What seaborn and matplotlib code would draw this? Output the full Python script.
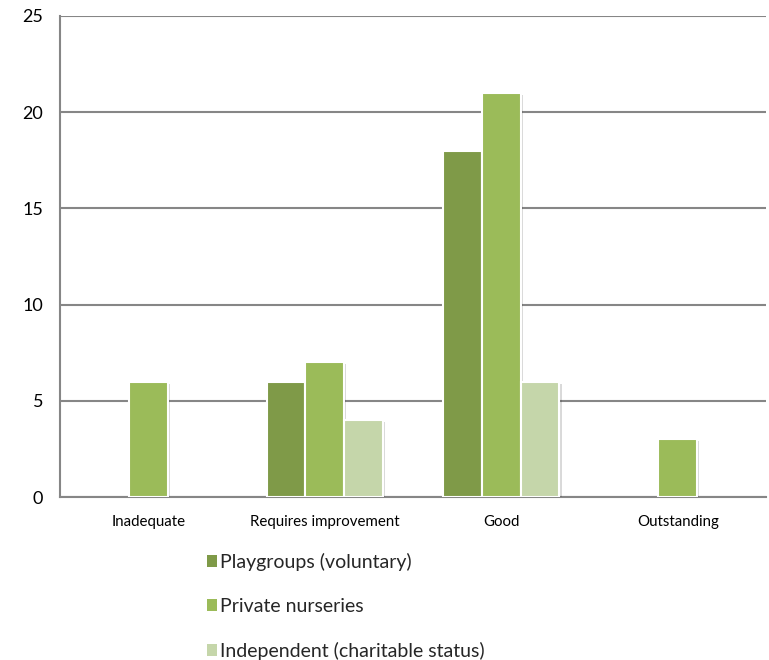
import matplotlib
matplotlib.use("Agg")
import matplotlib.pyplot as plt
import matplotlib.patheffects as pe
from matplotlib.patches import Patch
import pandas as pd
import seaborn as sns

# Inspection outcomes by provider type
categories = ["Inadequate", "Requires improvement", "Good", "Outstanding"]
series = ["Playgroups (voluntary)", "Private nurseries", "Independent (charitable status)"]
playgroups = [0, 6, 18, 0]
private_nurseries = [6, 7, 21, 3]
independent = [0, 4, 6, 0]
colors = ["#7F9A48", "#9BBB59", "#C5D6AA"]
y_ticks = [0, 5, 10, 15, 20, 25]

sns.set_theme(style="white")
plt.rcParams["font.family"] = ["Lato", "DejaVu Sans"]

rows = []
for name, vals in zip(series, [playgroups, private_nurseries, independent]):
    for cat, v in zip(categories, vals):
        rows.append({"category": cat, "series": name, "value": v})
df = pd.DataFrame(rows)

fig = plt.figure(figsize=(7.69, 6.60), dpi=100)
ax = fig.add_axes([60 / 769, 1 - 497 / 660, 706 / 769, (497 - 16) / 660])

sns.barplot(data=df, x="category", y="value", hue="series",
            order=categories, hue_order=series, palette=colors,
            saturation=1, width=0.66, edgecolor="white", linewidth=1.5,
            ax=ax, legend=False, zorder=3)

# hide empty bars and add a soft drop shadow
for p in ax.patches:
    if p.get_height() <= 0:
        p.set_visible(False)
    else:
        p.set_path_effects([pe.SimplePatchShadow(offset=(1.5, -1.5), shadow_rgbFace="#000000", alpha=0.15),
                            pe.Normal()])

ax.set_ylim(0, 25)
ax.set_xlim(-0.5, len(categories) - 0.5)
ax.set_yticks(y_ticks)
ax.yaxis.grid(True, color="#868686", linewidth=1.5, zorder=0)
ax.set_axisbelow(True)
ax.set_xlabel("")
ax.set_ylabel("")
ax.tick_params(axis="y", length=0, pad=12, labelsize=13, colors="black")
ax.tick_params(axis="x", length=0, pad=13, labelsize=10.8, colors="black")
for side in ["top", "right"]:
    ax.spines[side].set_visible(False)
for side in ["left", "bottom"]:
    ax.spines[side].set_color("#868686")
    ax.spines[side].set_linewidth(1.5)

handles = [Patch(facecolor=c, edgecolor="none") for c in colors]
fig.legend(handles, series, loc="upper left", bbox_to_anchor=(189 / 769, 1 - 535 / 660),
           frameon=False, fontsize=14, handlelength=0.55, handleheight=0.55,
           handletextpad=0.15, labelspacing=1.4)

fig.savefig("out.png", dpi=100)
